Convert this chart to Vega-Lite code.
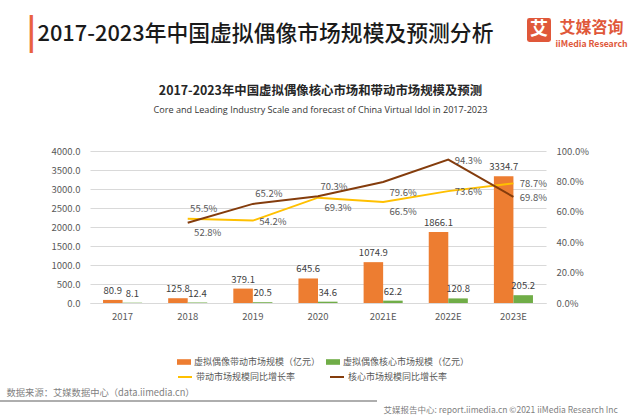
{
  "$schema": "https://vega.github.io/schema/vega-lite/v6.json",
  "autosize": {"type": "none"},
  "width": 456,
  "height": 152,
  "padding": {"left": 90, "top": 151, "right": 94, "bottom": 113},
  "background": "white",
  "config": {"font": "Noto Sans CJK SC", "view": {"stroke": null}, "axis": {"titleFontWeight": "normal", "titleLimit": 0}},
  "datasets": {
    "bars": [
      {"year": "2017", "series": "虚拟偶像带动市场规模（亿元）", "value": 80.9},
      {"year": "2017", "series": "虚拟偶像核心市场规模（亿元）", "value": 8.1},
      {"year": "2018", "series": "虚拟偶像带动市场规模（亿元）", "value": 125.8},
      {"year": "2018", "series": "虚拟偶像核心市场规模（亿元）", "value": 12.4},
      {"year": "2019", "series": "虚拟偶像带动市场规模（亿元）", "value": 379.1},
      {"year": "2019", "series": "虚拟偶像核心市场规模（亿元）", "value": 20.5},
      {"year": "2020", "series": "虚拟偶像带动市场规模（亿元）", "value": 645.6},
      {"year": "2020", "series": "虚拟偶像核心市场规模（亿元）", "value": 34.6},
      {"year": "2021E", "series": "虚拟偶像带动市场规模（亿元）", "value": 1074.9},
      {"year": "2021E", "series": "虚拟偶像核心市场规模（亿元）", "value": 62.2},
      {"year": "2022E", "series": "虚拟偶像带动市场规模（亿元）", "value": 1866.1},
      {"year": "2022E", "series": "虚拟偶像核心市场规模（亿元）", "value": 120.8},
      {"year": "2023E", "series": "虚拟偶像带动市场规模（亿元）", "value": 3334.7},
      {"year": "2023E", "series": "虚拟偶像核心市场规模（亿元）", "value": 205.2}
    ],
    "rates": [
      {"year": "2018", "series": "带动市场规模同比增长率", "rate": 0.555},
      {"year": "2019", "series": "带动市场规模同比增长率", "rate": 0.542},
      {"year": "2020", "series": "带动市场规模同比增长率", "rate": 0.693},
      {"year": "2021E", "series": "带动市场规模同比增长率", "rate": 0.665},
      {"year": "2022E", "series": "带动市场规模同比增长率", "rate": 0.736},
      {"year": "2023E", "series": "带动市场规模同比增长率", "rate": 0.787},
      {"year": "2018", "series": "核心市场规模同比增长率", "rate": 0.528},
      {"year": "2019", "series": "核心市场规模同比增长率", "rate": 0.652},
      {"year": "2020", "series": "核心市场规模同比增长率", "rate": 0.703},
      {"year": "2021E", "series": "核心市场规模同比增长率", "rate": 0.796},
      {"year": "2022E", "series": "核心市场规模同比增长率", "rate": 0.943},
      {"year": "2023E", "series": "核心市场规模同比增长率", "rate": 0.698}
    ]
  },
  "resolve": {"scale": {"y": "independent"}, "axis": {"x": "independent", "y": "independent"}},
  "layer": [
    {
      "data": {"name": "bars"},
      "mark": {"type": "bar"},
      "encoding": {
        "x": {"field": "year", "type": "nominal", "sort": null,
          "scale": {"domain": ["2017", "2018", "2019", "2020", "2021E", "2022E", "2023E"], "paddingInner": 0.4, "paddingOuter": 0.2},
          "axis": {"orient": "bottom", "labelAngle": 0, "ticks": false, "grid": false, "domainColor": "#D9D9D9", "labelColor": "#595959", "labelFontSize": 9.5, "labelPadding": 8,
            "title": "数据来源：艾媒数据中心（data.iimedia.cn）", "titleX": -84, "titleY": 89, "titleAlign": "left", "titleBaseline": "middle", "titleFontSize": 9.3, "titleColor": "#7f7f7f"}},
        "xOffset": {"field": "series", "type": "nominal", "scale": {"domain": ["虚拟偶像带动市场规模（亿元）", "虚拟偶像核心市场规模（亿元）"], "paddingInner": 0, "paddingOuter": 0}},
        "y": {"field": "value", "type": "quantitative", "scale": {"domain": [0, 4000], "nice": false},
          "axis": {"orient": "left", "values": [0, 500, 1000, 1500, 2000, 2500, 3000, 3500, 4000], "format": ".1f", "ticks": false, "domain": false, "gridColor": "#D9D9D9", "labelColor": "#595959", "labelFontSize": 9.5, "labelPadding": 10,
            "title": "2017-2023年中国虚拟偶像市场规模及预测分析", "titleAngle": 0, "titleX": -53, "titleY": -118, "titleAlign": "left", "titleBaseline": "middle", "titleFontSize": 21.8, "titleFontWeight": 500, "titleColor": "#1a1a1a"}},
        "color": {"field": "series", "type": "nominal",
          "scale": {"domain": ["虚拟偶像带动市场规模（亿元）", "虚拟偶像核心市场规模（亿元）"], "range": ["#ED7D31", "#70AD47"]},
          "legend": {"orient": "none", "legendX": 87, "legendY": 204, "direction": "horizontal", "title": null, "symbolType": "M-1,-0.4H1V0.4H-1Z", "symbolSize": 196, "symbolStrokeWidth": 0, "labelFontSize": 9, "labelColor": "#595959", "labelOffset": 3, "columnPadding": 5, "padding": 0}}
      }
    },
    {
      "data": {"name": "bars"},
      "mark": {"type": "text", "baseline": "bottom", "dy": -4, "fontSize": 9.5, "fill": "#404040"},
      "encoding": {
        "x": {"field": "year", "type": "nominal", "sort": null,
          "axis": {"orient": "bottom", "labels": false, "ticks": false, "domain": false, "grid": false,
            "title": "艾媒报告中心: report.iimedia.cn   ©2021  iiMedia Research Inc", "titleX": 293, "titleY": 106, "titleAlign": "left", "titleBaseline": "middle", "titleFontSize": 8.5, "titleColor": "#7f7f7f"}},
        "xOffset": {"field": "series", "type": "nominal"},
        "y": {"field": "value", "type": "quantitative", "scale": {"domain": [0, 4000], "nice": false},
          "axis": {"orient": "left", "labels": false, "ticks": false, "domain": false, "grid": false,
            "title": "2017-2023年中国虚拟偶像核心市场和带动市场规模及预测", "titleAngle": 0, "titleX": 230, "titleY": -60.3, "titleAlign": "center", "titleBaseline": "middle", "titleFontSize": 12.4, "titleFontWeight": "bold", "titleColor": "#262626"}},
        "text": {"field": "value", "type": "quantitative", "format": ".1f"}
      }
    },
    {
      "data": {"name": "rates"},
      "mark": {"type": "line", "strokeWidth": 2},
      "encoding": {
        "x": {"field": "year", "type": "nominal", "sort": null,
          "axis": {"orient": "bottom", "labels": false, "ticks": false, "domain": false, "grid": false,
            "title": "艾媒咨询", "titleX": 501, "titleY": -276, "titleAlign": "center", "titleBaseline": "middle", "titleFontSize": 16, "titleFontWeight": "bold", "titleColor": "#E0583A"}},
        "y": {"field": "rate", "type": "quantitative", "scale": {"domain": [0, 1], "nice": false},
          "axis": {"orient": "right", "values": [0, 0.2, 0.4, 0.6, 0.8, 1], "format": ".1%", "ticks": false, "domain": false, "grid": false, "labelColor": "#595959", "labelFontSize": 9.5, "labelPadding": 10,
            "title": "Core and Leading Industry Scale and forecast of China Virtual Idol in 2017-2023", "titleAngle": 0, "titleX": -226, "titleY": -41.7, "titleAlign": "center", "titleBaseline": "middle", "titleFont": "Open Sans", "titleFontSize": 9.1, "titleColor": "#333333"}},
        "stroke": {"field": "series", "type": "nominal",
          "scale": {"domain": ["带动市场规模同比增长率", "核心市场规模同比增长率"], "range": ["#FFC000", "#843C0C"]},
          "legend": {"orient": "none", "legendX": 87, "legendY": 218, "direction": "horizontal", "title": null, "symbolType": "stroke", "symbolSize": 196, "symbolStrokeWidth": 2, "labelFontSize": 9, "labelColor": "#595959", "labelOffset": 3, "columnPadding": 30, "padding": 0}}
      }
    },
    {
      "data": {"name": "rates"},
      "transform": [{"filter": "(datum.series === '核心市场规模同比增长率' && (datum.year === '2019' || datum.year === '2020')) || (datum.series === '带动市场规模同比增长率' && datum.year === '2018')"}],
      "mark": {"type": "text", "dx": 16, "dy": -9.5, "baseline": "middle", "fontSize": 9.5, "fill": "#595959"},
      "encoding": {
        "x": {"field": "year", "type": "nominal", "sort": null,
          "axis": {"orient": "bottom", "labels": false, "ticks": false, "domain": false, "grid": false,
            "title": "iiMedia Research", "titleX": 501, "titleY": -260, "titleAlign": "center", "titleBaseline": "middle", "titleFontSize": 8.7, "titleFontWeight": 600, "titleColor": "#E0583A"}},
        "y": {"field": "rate", "type": "quantitative", "scale": {"domain": [0, 1], "nice": false}, "axis": null},
        "text": {"field": "rate", "type": "quantitative", "format": ".1%"}
      }
    },
    {
      "data": {"name": "rates"},
      "transform": [{"filter": "(datum.series === '核心市场规模同比增长率' && (datum.year === '2018' || datum.year === '2021E')) || (datum.series === '带动市场规模同比增长率' && (datum.year === '2020' || datum.year === '2021E'))"}],
      "mark": {"type": "text", "dx": 20, "dy": 10.5, "baseline": "middle", "fontSize": 9.5, "fill": "#595959"},
      "encoding": {
        "x": {"field": "year", "type": "nominal", "sort": null,
          "axis": {"orient": "bottom", "labels": false, "ticks": false, "domain": false, "grid": false,
            "title": "▕", "titleX": -58, "titleY": -258.4, "titleAlign": "right", "titleBaseline": "alphabetic", "titleFont": "DejaVu Sans", "titleFontSize": 32, "titleColor": "#E9623F"}},
        "y": {"field": "rate", "type": "quantitative", "scale": {"domain": [0, 1], "nice": false}, "axis": null},
        "text": {"field": "rate", "type": "quantitative", "format": ".1%"}
      }
    },
    {
      "data": {"name": "rates"},
      "transform": [{"filter": "(datum.series === '核心市场规模同比增长率' && (datum.year === '2022E' || datum.year === '2023E')) || (datum.series === '带动市场规模同比增长率' && (datum.year === '2019' || datum.year === '2022E' || datum.year === '2023E'))"}],
      "mark": {"type": "text", "dx": 20, "dy": 1, "baseline": "middle", "fontSize": 9.5, "fill": "#595959"},
      "encoding": {
        "x": {"field": "year", "type": "nominal", "sort": null, "axis": null},
        "y": {"field": "rate", "type": "quantitative", "scale": {"domain": [0, 1], "nice": false}, "axis": null},
        "text": {"field": "rate", "type": "quantitative", "format": ".1%"}
      }
    },
    {
      "data": {"name": "rates"},
      "transform": [{"filter": "false"}],
      "mark": {"type": "point", "filled": true, "color": "#E0583A"},
      "encoding": {
        "x": {"field": "year", "type": "nominal", "sort": null, "axis": null},
        "y": {"field": "rate", "type": "quantitative", "scale": {"domain": [0, 1], "nice": false}, "axis": null},
        "opacity": {"datum": "艾", "type": "nominal", "scale": {"domain": ["艾"], "range": [1]},
          "legend": {"orient": "none", "legendX": 437, "legendY": -133, "title": null, "padding": 0,
            "symbolType": "M-0.8,-1H0.8Q1,-1 1,-0.8V0.8Q1,1 0.8,1H-0.8Q-1,1 -1,0.8V-0.8Q-1,-1 -0.8,-1Z", "symbolSize": 576, "symbolFillColor": "#E0583A", "symbolStrokeWidth": 0,
            "labelFontSize": 18, "labelFontWeight": "bold", "labelColor": "#ffffff", "labelOffset": -21}}
      }
    },
    {
      "data": {"name": "rates"},
      "transform": [{"filter": "false"}],
      "mark": {"type": "point", "filled": true, "color": "#8c8c8c"},
      "encoding": {
        "x": {"field": "year", "type": "nominal", "sort": null, "axis": null},
        "y": {"field": "rate", "type": "quantitative", "scale": {"domain": [0, 1], "nice": false}, "axis": null},
        "shape": {"datum": " ", "type": "nominal", "scale": {"domain": [" "], "range": ["M-1,-0.005H1V0.005H-1Z"]},
          "legend": {"orient": "none", "legendX": -90, "legendY": 61.5, "title": null, "padding": 0,
            "symbolSize": 142129, "symbolFillColor": "#8c8c8c", "symbolStrokeWidth": 0, "labelFontSize": 6}}
      }
    }
  ]
}
